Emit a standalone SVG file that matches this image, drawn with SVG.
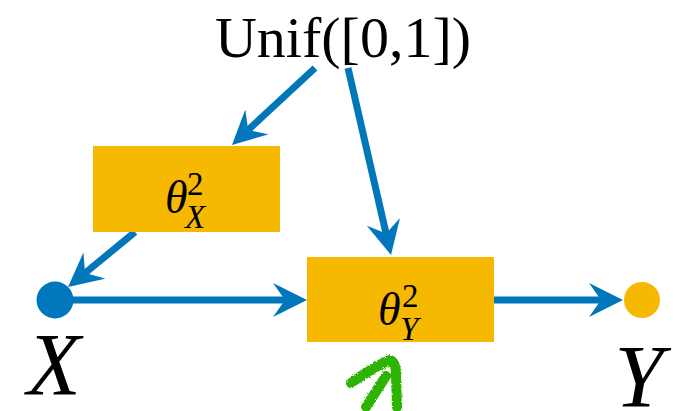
<svg xmlns="http://www.w3.org/2000/svg" width="679" height="411" viewBox="0 0 679 411">
  <style>
    .edge { fill: none; stroke: #0077bb; stroke-width: 7; marker-end: url(#head); }
    .box { fill: #f6b800; }
    text { font-family: 'Liberation Serif', serif; fill: #000; }
    .it { font-style: italic; }
  </style>
  <defs>
    <!-- swept-back arrowhead; reference point sits at the notch -->
    <marker id="head" markerUnits="userSpaceOnUse" markerWidth="34" markerHeight="34" refX="12" refY="17" orient="auto">
      <path d="M34,17 L0,0 L12,17 L0,34 Z" fill="#0077bb"/>
    </marker>
    <filter id="rough" x="-20%" y="-20%" width="140%" height="140%">
      <feTurbulence type="fractalNoise" baseFrequency="0.9" numOctaves="2" seed="3"/>
      <feDisplacementMap in="SourceGraphic" scale="3"/>
    </filter>
  </defs>

  <g id="connectors">
    <line class="edge" x1="315" y1="68" x2="248.1" y2="130"/>
    <line class="edge" x1="348" y1="68" x2="386.1" y2="233.6"/>
    <line class="edge" x1="135" y1="232" x2="85" y2="273.1"/>
    <line class="edge" x1="55" y1="300" x2="285" y2="300"/>
    <line class="edge" x1="494" y1="300" x2="601" y2="300"/>
  </g>

  <g id="unif">
    <text x="343" y="57" font-size="58" text-anchor="middle">Unif([0,1])</text>
  </g>

  <g id="thetaX">
    <rect class="box" x="93" y="146" width="187" height="86"/>
    <text class="it" x="165" y="213" font-size="46">θ</text>
    <text x="187" y="195" font-size="33">2</text>
    <text class="it" x="185" y="228" font-size="33">X</text>
  </g>

  <g id="thetaY">
    <rect class="box" x="307" y="257" width="187" height="85"/>
    <text class="it" x="378" y="325" font-size="46">θ</text>
    <text x="402" y="307" font-size="33">2</text>
    <text class="it" x="400" y="340" font-size="33">Y</text>
  </g>

  <g id="nodeX">
    <circle cx="55" cy="300" r="18.5" fill="#0077bb"/>
    <text class="it" x="54" y="394" font-size="88" text-anchor="middle">X</text>
  </g>

  <g id="nodeY">
    <circle cx="642" cy="300" r="18" fill="#f6b800"/>
    <text class="it" x="639" y="406" font-size="88" text-anchor="middle">Y</text>
  </g>

  <!-- hand-drawn green mark under the θ_Y box -->
  <g id="scribble" fill="none" stroke="#2db400" stroke-width="10" stroke-linecap="round" stroke-linejoin="round" filter="url(#rough)">
    <path d="M351,383 Q375,366 390,360 Q396,362 396,375 L397,407"/>
    <path d="M366,407 L386,376"/>
  </g>
</svg>
